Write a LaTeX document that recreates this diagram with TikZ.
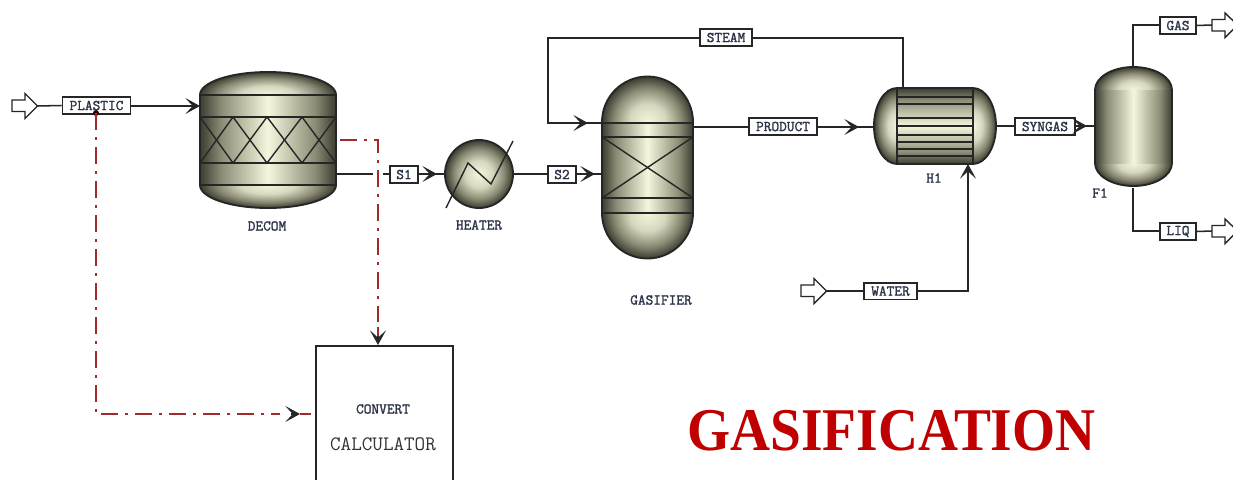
\documentclass[tikz,border=0pt]{standalone}
\usepackage{graphicx}
\usepackage{fontspec}
\usetikzlibrary{arrows.meta}
\setmainfont{Liberation Serif}
\setmonofont{Latin Modern Mono}
\newfontfamily\tagfont{Latin Modern Mono}[FakeBold=1.6]
\definecolor{vdark}{HTML}{3C3C30}
\definecolor{vmid}{HTML}{8E8E78}
\definecolor{vlight}{HTML}{F6F6DE}
\definecolor{tagtext}{HTML}{2C3448}
\definecolor{sigred}{HTML}{A32A2A}
\definecolor{titlered}{HTML}{C00000}
\pgfdeclarehorizontalshading{vesselh}{100bp}{color(0bp)=(vdark);color(25bp)=(vdark);color(33bp)=(vmid);color(50bp)=(vlight);color(67bp)=(vmid);color(75bp)=(vdark);color(100bp)=(vdark)}
\pgfdeclareverticalshading{vesselv}{100bp}{color(0bp)=(vdark);color(25bp)=(vdark);color(33bp)=(vmid);color(50bp)=(vlight);color(67bp)=(vmid);color(75bp)=(vdark);color(100bp)=(vdark)}
\pgfdeclareradialshading{vesselr}{\pgfpointorigin}{color(0bp)=(vlight);color(10bp)=(vlight!70!vmid);color(18bp)=(vmid);color(25bp)=(vdark);color(50bp)=(vdark)}
\tikzset{
  line/.style={line width=1.15pt,draw=black!85},
  flow/.style={line,-{Stealth[length=11pt,width=12pt,inset=5.5pt]}},
  signal/.style={line width=1.1pt,draw=sigred,dash pattern=on 12.5pt off 5.5pt on 2pt off 5.5pt},
  sigtail/.style={line width=1.1pt,draw=sigred},
  tag/.style={draw=black!85,fill=white,line width=1.25pt,inner sep=0pt,minimum height=12.5pt,font=\tagfont\fontsize{11.2}{12}\selectfont,text=tagtext},
  caption/.style={inner sep=0pt,font=\tagfont\fontsize{11.2}{12}\selectfont,text=tagtext},
  outline/.style={line width=1.4pt,draw=black!85},
  inner/.style={line width=1.05pt,draw=black!85},
  openarrow/.style={draw=black!85,fill=white,line width=1.05pt},
}
\begin{document}
\begin{tikzpicture}[x=0.75pt,y=-0.75pt]
\useasboundingbox (0,0) rectangle (1233,479);
\clip (0,0) rectangle (1233,479);
\fill[white] (0,0) rectangle (1233,479);

% DECOM
\path[shading=vesselr] (268,95) ellipse [x radius=68,y radius=23];
\path[shading=vesselr] (268,185) ellipse [x radius=68,y radius=23];
\path[shading=vesselh] (200,95) rectangle (336,185);
\draw[outline] (200,95) arc[start angle=180,end angle=360,x radius=68,y radius=23] -- (336,185) arc[start angle=0,end angle=180,x radius=68,y radius=23] -- cycle;
\foreach \yy in {95,117,163,185} \draw[inner] (200,\yy) -- (336,\yy);
\draw[inner] (200,117) -- (233,163) -- (267,117) -- (302,163) -- (336,117);
\draw[inner] (200,163) -- (233,117) -- (267,163) -- (302,117) -- (336,163);
\node[caption] (decomlabel) at (267,226) {DECOM};

% HEATER
\path[shading=vesselr] (479,174) circle [radius=34];
\draw[outline] (479,174) circle [radius=34];
\draw[inner] (446,208) -- (468,163) -- (491,184) -- (513,141);
\node[caption] (heaterlabel) at (479,225) {HEATER};

% GASIFIER
\path[shading=vesselr] (647.5,122) circle [radius=45.5];
\path[shading=vesselr] (647.5,213) circle [radius=45.5];
\path[shading=vesselh] (602,122) rectangle (693,213);
\draw[outline] (602,122) arc[start angle=180,end angle=360,radius=45.5] -- (693,213) arc[start angle=0,end angle=180,radius=45.5] -- cycle;
\foreach \yy in {123,137,198,213} \draw[inner] (602,\yy) -- (693,\yy);
\draw[inner] (602,137) -- (693,198);
\draw[inner] (602,198) -- (693,137);
\node[caption] (gasifierlabel) at (661,300) {GASIFIER};

% H1
\path[shading=vesselr] (897,126) ellipse [x radius=23,y radius=38];
\path[shading=vesselr] (973,126) ellipse [x radius=23,y radius=38];
\path[shading=vesselv] (897,88) rectangle (973,164);
\draw[outline] (897,88) -- (973,88) arc[start angle=-90,end angle=90,x radius=23,y radius=38] -- (897,164) arc[start angle=90,end angle=270,x radius=23,y radius=38] -- cycle;
\draw[outline] (897,88) -- (897,164);
\draw[outline] (973,88) -- (973,164);
\foreach \yy in {97,104,118,126,135,142,149,156} \draw[inner] (897,\yy) -- (973,\yy);
\node[caption] (hlabel) at (934,178) {H1};

% F1
\path[shading=vesselr] (1133.5,90) ellipse [x radius=38.5,y radius=23];
\path[shading=vesselr] (1133.5,163) ellipse [x radius=38.5,y radius=23];
\path[shading=vesselh] (1095,90) rectangle (1172,163);
\draw[outline] (1095,90) arc[start angle=180,end angle=360,x radius=38.5,y radius=23] -- (1172,163) arc[start angle=0,end angle=180,x radius=38.5,y radius=23] -- cycle;
\node[caption] (flabel) at (1100,193) {F1};

% Ports and routing points
\coordinate (plasticfeed) at (37,106);
\coordinate (decomin) at (200,106);
\coordinate (decomout) at (336,174);
\coordinate (breakA) at (373,174);
\coordinate (breakB) at (383,174);
\coordinate (heaterin) at (445,174);
\coordinate (heatertip) at (437,174);
\coordinate (heaterout) at (513,174);
\coordinate (gasin) at (602,174);
\coordinate (gastip) at (595,174);
\coordinate (gassteam) at (602,123);
\coordinate (steamtip) at (588,123);
\coordinate (steamcornerA) at (548,123);
\coordinate (steamcornerB) at (548,38);
\coordinate (steamcornerC) at (903,38);
\coordinate (hsteam) at (903,88);
\coordinate (gasout) at (693,127);
\coordinate (hin) at (874,127);
\coordinate (htip) at (859,127);
\coordinate (watercorner) at (968,291);
\coordinate (hwaterin) at (968,178);
\coordinate (hwatertip) at (968,164);
\coordinate (waterfeed) at (826,291);
\coordinate (hout) at (996,126);
\coordinate (fin) at (1095,126);
\coordinate (ftip) at (1087,126);
\coordinate (ftop) at (1133,67);
\coordinate (fbottom) at (1133,188);
\coordinate (gascorner) at (1133,25);
\coordinate (liqcorner) at (1133,231);
\coordinate (gasexit) at (1212,25);
\coordinate (liqexit) at (1212,231);

% Calculator
\node[draw=black!85,line width=1.2pt,fill=white,minimum width=102.75pt,minimum height=120pt,anchor=north west,inner sep=0pt] (calc) at (315,345) {};
\node[inner sep=0pt,font=\tagfont\fontsize{11.2}{12}\selectfont,text=tagtext] (calcname) at (383,409) {CONVERT};
\node[inner sep=0pt,font=\ttfamily\fontsize{15.4}{16}\selectfont,text=black!80] (calctype) at (383,444) {CALCULATOR};

% Stream tags
\node[tag,minimum width=51pt] (plastic) at (96.5,105.5) {PLASTIC};
\node[tag,minimum width=21pt] (s1) at (404,174.5) {S1};
\node[tag,minimum width=21pt] (s2) at (562,174.5) {S2};
\node[tag,minimum width=39pt] (steam) at (726,37.5) {STEAM};
\node[tag,minimum width=51pt] (product) at (783,126.5) {PRODUCT};
\node[tag,minimum width=45pt] (syngas) at (1045,126.5) {SYNGAS};
\node[tag,minimum width=39.5pt] (water) at (890.5,291) {WATER};
\node[tag,minimum width=27pt] (gas) at (1178,25.5) {GAS};
\node[tag,minimum width=27pt] (liq) at (1178,231.5) {LIQ};

% Feed and product arrows
\draw[line] (plasticfeed) -- (plastic.west);
\draw[line] (waterfeed) -- (water.west);
\draw[line] (gas.east) -- (gasexit);
\draw[line] (liq.east) -- (liqexit);
\draw[openarrow] (12,100) -- (25,100) -- (25,93.5) -- (37.5,106) -- (25,118.5) -- (25,111.5) -- (12,111.5) -- cycle;
\draw[openarrow] (801,285) -- (814,285) -- (814,278.5) -- (826.5,291) -- (814,303.5) -- (814,296.5) -- (801,296.5) -- cycle;
\draw[openarrow] (1212,19.5) -- (1225,19.5) -- (1225,13) -- (1237.5,25) -- (1225,37.5) -- (1225,31) -- (1212,31) -- cycle;
\draw[openarrow] (1212,225.5) -- (1225,225.5) -- (1225,219) -- (1237.5,231) -- (1225,243.5) -- (1225,237) -- (1212,237) -- cycle;

% Material streams
\draw[flow] (plastic.east |- decomin) -- (decomin);
\draw[line] (decomout) -- (breakA);
\draw[line] (breakB) -- (s1.west |- breakB);
\draw[line] (s1.east |- heaterin) -- (heaterin);
\draw[flow] (s1.east |- heatertip) -- (heatertip);
\draw[line] (heaterout) -- (s2.west |- heaterout);
\draw[line] (s2.east |- gasin) -- (gasin);
\draw[flow] (s2.east |- gastip) -- (gastip);
\draw[line] (hsteam) -- (steamcornerC) -- (steam.east |- steamcornerC);
\draw[line] (steam.west |- steamcornerB) -- (steamcornerB) -- (steamcornerA) -- (gassteam);
\draw[flow] (steamcornerA) -- (steamtip);
\draw[line] (gasout) -- (product.west |- gasout);
\draw[line] (product.east |- hin) -- (hin);
\draw[flow] (product.east |- htip) -- (htip);
\draw[line] (water.east |- watercorner) -- (watercorner) -- (hwaterin);
\draw[flow] (hwaterin) -- (hwatertip);
\draw[line] (hout) -- (syngas.west |- hout);
\draw[line] (syngas.east |- fin) -- (fin);
\draw[flow] (syngas.east |- ftip) -- (ftip);
\draw[line] (ftop) -- (gascorner) -- (gas.west |- gascorner);
\draw[line] (fbottom) -- (liqcorner) -- (liq.west |- liqcorner);

% Signal streams
\coordinate (sigstart) at (96,113);
\coordinate (sigcorner) at (96,414);
\coordinate (sigdashA) at (280,414);
\coordinate (sigtailA) at (291,414);
\coordinate (sigtipA) at (300,414);
\coordinate (sigendA) at (311,414);
\coordinate (decomsig) at (340,140);
\coordinate (decomcorner) at (378,140);
\coordinate (sigdashB) at (378,322);
\coordinate (sigsolidB) at (378,327);
\coordinate (sigtailB) at (378,336);
\coordinate (sigtipB) at (378,345);
\fill[black!80!red] (sigstart) circle [radius=3];
\draw[signal] (sigstart) -- (sigcorner) -- (sigdashA);
\draw[sigtail] (sigtipA) -- (sigendA);
\draw[flow] (sigtailA) -- (sigtipA);
\draw[signal] (decomsig) -- (decomcorner) -- (sigdashB);
\draw[sigtail] (sigsolidB) -- (sigtailB);
\draw[flow] (sigtailB) -- (sigtipB);

\node[inner sep=0pt,font=\bfseries\fontsize{45.5}{50}\selectfont,text=titlered] (title) at (891.5,431) {\scalebox{0.913}[1]{GASIFICATION}};
\end{tikzpicture}
\end{document}
